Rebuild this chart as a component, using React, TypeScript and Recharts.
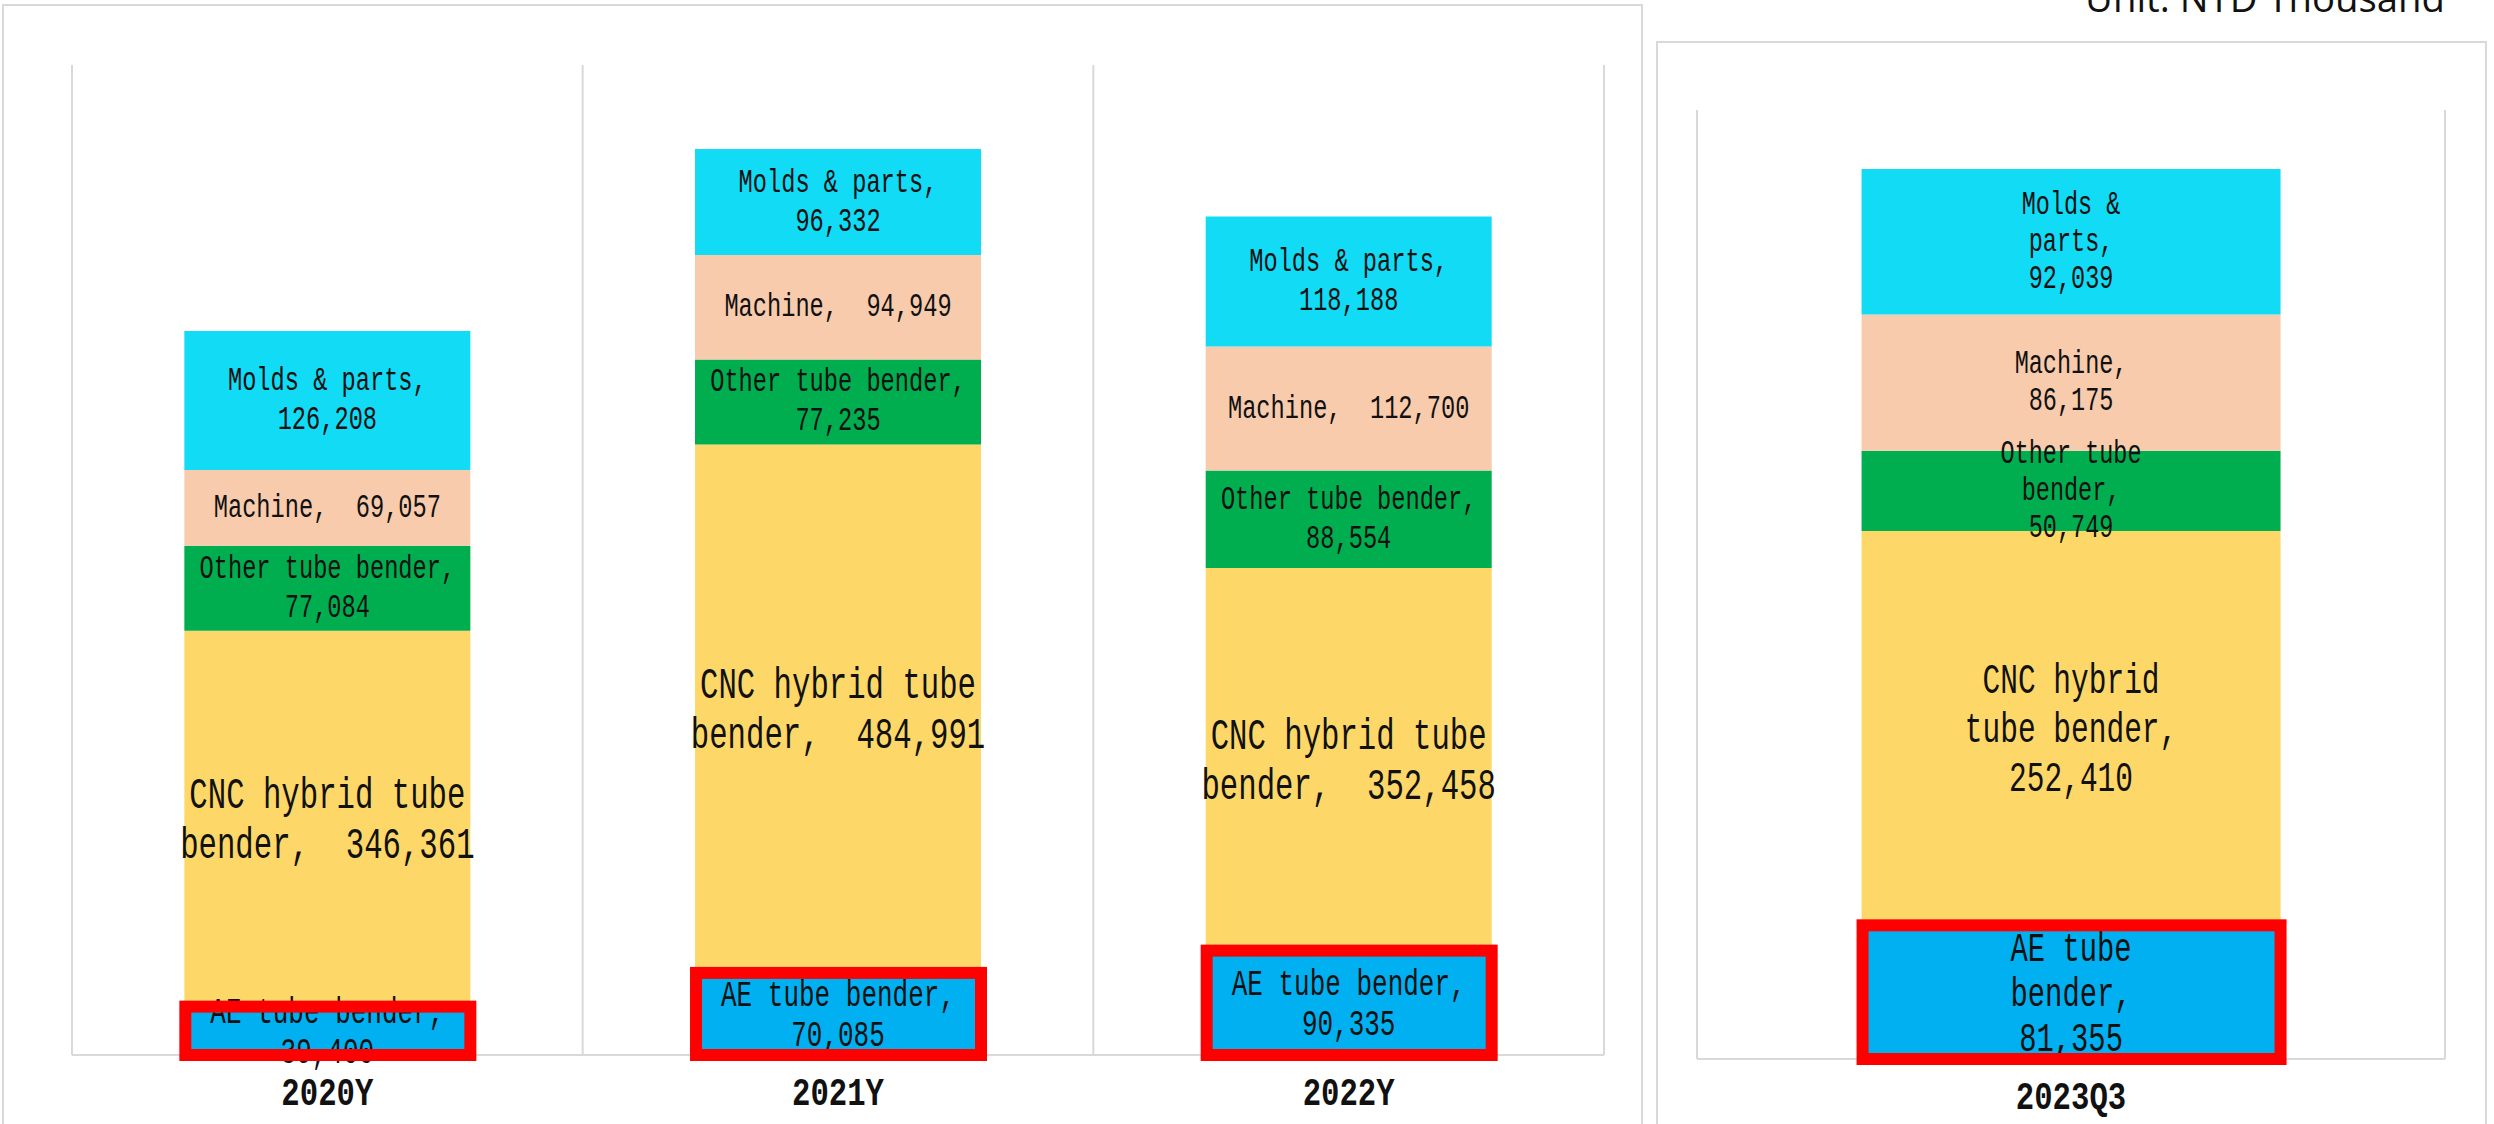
import React from 'react';
import { BarChart, Bar, XAxis, YAxis, CartesianGrid, LabelList } from 'recharts';

// Series, bottom to top of each stack
const seriesKeys = ['ae', 'cnc', 'other', 'machine', 'molds'];
const seriesNames = ['AE tube bender', 'CNC hybrid tube bender', 'Other tube bender', 'Machine', 'Molds & parts'];
const seriesColors = ['#00B0F0', '#FDD869', '#00AE50', '#F8CBAD', '#12DBF5'];

// Full years (NTD thousand)
const yearCategories = ['2020Y', '2021Y', '2022Y'];
const yearAe = [39400, 70085, 90335];
const yearCnc = [346361, 484991, 352458];
const yearOther = [77084, 77235, 88554];
const yearMachine = [69057, 94949, 112700];
const yearMolds = [126208, 96332, 118188];

// Year to date
const quarterCategories = ['2023Q3'];
const quarterAe = [81355];
const quarterCnc = [252410];
const quarterOther = [50749];
const quarterMachine = [86175];
const quarterMolds = [92039];

const unitText = 'Unit: NTD Thousand';

type Row = { name: string; [key: string]: number | string };

const buildRows = (cats: string[], cols: number[][]): Row[] =>
  cats.map((name, i) => {
    const row: Row = { name };
    seriesKeys.forEach((k, s) => {
      row[k] = cols[s][i];
    });
    return row;
  });

const yearRows = buildRows(yearCategories, [yearAe, yearCnc, yearOther, yearMachine, yearMolds]);
const quarterRows = buildRows(quarterCategories, [quarterAe, quarterCnc, quarterOther, quarterMachine, quarterMolds]);

type LabelStyle = { adv: number; fs: number; lh: number; maxChars: number };

const MONO = "'Liberation Mono', 'DejaVu Sans Mono', monospace";
const GRID = '#d9d9d9';

// "Name, value" wrapped on word boundaries, Excel style
const wrapLabel = (name: string, value: number, maxChars: number): string[] => {
  const words = name.split(' ');
  words[words.length - 1] += ',';
  const lines: string[] = [];
  let cur = '';
  words.forEach((w) => {
    const cand = cur ? `${cur} ${w}` : w;
    if (cand.length <= maxChars || !cur) cur = cand;
    else {
      lines.push(cur);
      cur = w;
    }
  });
  const val = value.toLocaleString('en-US');
  const withVal = `${cur}  ${val}`;
  if (withVal.length <= maxChars) lines.push(withVal);
  else lines.push(cur, val);
  return lines;
};

const LabelLines = ({ cx, cy, lines, style }: { cx: number; cy: number; lines: string[]; style: LabelStyle }) => {
  const start = cy - ((lines.length - 1) * style.lh) / 2;
  return (
    <g>
      {lines.map((line, i) => (
        <text
          key={i}
          x={cx}
          y={start + i * style.lh}
          textAnchor="middle"
          dominantBaseline="central"
          fontFamily={MONO}
          fontSize={style.fs}
          textLength={line.length * style.adv}
          lengthAdjust="spacingAndGlyphs"
          fill="#111"
          style={{ whiteSpace: 'pre' }}
        >
          {line}
        </text>
      ))}
    </g>
  );
};

const segmentLabel = (name: string, style: LabelStyle) => (props: any) => {
  const vb = props.viewBox ?? props;
  const x = Number(vb.x);
  const w = Number(vb.width);
  const y = Math.min(Number(vb.y), Number(vb.y) + Number(vb.height));
  const h = Math.abs(Number(vb.height));
  const v = Number(props.value);
  if (!isFinite(x) || !isFinite(v)) return null;
  return <LabelLines cx={x + w / 2} cy={y + h / 2} lines={wrapLabel(name, v, style.maxChars)} style={style} />;
};

// AE segment: its label plus the red highlight frame drawn over it
const highlightShape = (style: LabelStyle) => (props: any) => {
  const { x, y, width, height, payload } = props;
  const top = Math.min(y, y + height);
  const h = Math.abs(height);
  const sw = 12;
  const left = x - 5;
  const right = x + width + 6;
  const t = top - 11;
  const b = top + h + 6;
  return (
    <g>
      <LabelLines
        cx={x + width / 2}
        cy={top + h / 2}
        lines={wrapLabel(seriesNames[0], Number(payload.ae), style.maxChars)}
        style={style}
      />
      <rect
        x={left + sw / 2}
        y={t + sw / 2}
        width={right - left - sw}
        height={b - t - sw}
        fill="none"
        stroke="#FF0000"
        strokeWidth={sw}
      />
    </g>
  );
};

const CategoryTick = (props: any) => {
  const { x, y, payload } = props;
  const label = String(payload.value);
  return (
    <text
      x={x}
      y={y + 39}
      textAnchor="middle"
      dominantBaseline="central"
      fontFamily={MONO}
      fontWeight="bold"
      fontSize={38}
      textLength={label.length * 18.4}
      lengthAdjust="spacingAndGlyphs"
      fill="#111"
    >
      {label}
    </text>
  );
};

type PanelProps = {
  rows: Row[];
  width: number;
  margin: { top: number; right: number; bottom: number; left: number };
  yMax: number;
  small: LabelStyle;
  large: LabelStyle;
  ae: LabelStyle;
};

const StackPanel = ({ rows, width, margin, yMax, small, large, ae }: PanelProps) => (
  <BarChart width={width} height={1124} data={rows} margin={margin} barCategoryGap="22%">
    {/* category separators plus the baseline, kept under the bars */}
    <CartesianGrid
      stroke={GRID}
      strokeWidth={2}
      verticalCoordinatesGenerator={({ offset }: any) =>
        Array.from({ length: rows.length + 1 }, (_, i) => offset.left + (i * offset.width) / rows.length)
      }
      horizontalCoordinatesGenerator={({ offset }: any) => [offset.top + offset.height]}
    />
    <XAxis
      dataKey="name"
      height={40}
      interval={0}
      tickLine={false}
      tickSize={0}
      tickMargin={0}
      axisLine={false}
      tick={<CategoryTick />}
    />
    <XAxis xAxisId="mark" dataKey="name" hide />
    <YAxis hide domain={[0, yMax]} />
    {seriesKeys.map((k, s) => (
      <Bar key={k} dataKey={k} stackId="total" fill={seriesColors[s]} isAnimationActive={false}>
        {s > 0 && (
          <LabelList dataKey={k} content={segmentLabel(seriesNames[s], s === 1 ? large : small)} />
        )}
      </Bar>
    ))}
    <Bar xAxisId="mark" dataKey="ae" isAnimationActive={false} shape={highlightShape(ae)} />
  </BarChart>
);

export default function App() {
  return (
    <div
      style={{
        position: 'absolute',
        left: 0,
        top: 0,
        width: 2494,
        height: 1124,
        overflow: 'hidden',
        background: '#fff',
      }}
    >
      <svg width={2494} height={1124} style={{ position: 'absolute', left: 0, top: 0 }}>
        <rect x={3} y={5} width={1639} height={1200} fill="none" stroke={GRID} strokeWidth={2} />
        <rect x={1657} y={42} width={829} height={1200} fill="none" stroke={GRID} strokeWidth={2} />
        <text
          x={2085}
          y={12}
          fontFamily="'Open Sans', 'Noto Sans', sans-serif"
          fontSize={38}
          textLength={360}
          lengthAdjust="spacingAndGlyphs"
          fill="#111"
        >
          {unitText}
        </text>
      </svg>
      <div style={{ position: 'absolute', left: 0, top: 0 }}>
        <StackPanel
          rows={yearRows}
          width={1650}
          margin={{ top: 65, right: 46, bottom: 29, left: 72 }}
          yMax={900000}
          small={{ adv: 14.2, fs: 34, lh: 39, maxChars: 19 }}
          large={{ adv: 18.4, fs: 44, lh: 50, maxChars: 16 }}
          ae={{ adv: 15.6, fs: 37, lh: 40, maxChars: 19 }}
        />
      </div>
      <div style={{ position: 'absolute', left: 1650, top: 0 }}>
        <StackPanel
          rows={quarterRows}
          width={844}
          margin={{ top: 110, right: 49, bottom: 25, left: 47 }}
          yMax={600000}
          small={{ adv: 14.1, fs: 34, lh: 37, maxChars: 12 }}
          large={{ adv: 17.7, fs: 42, lh: 49, maxChars: 12 }}
          ae={{ adv: 17.3, fs: 41, lh: 45, maxChars: 12 }}
        />
      </div>
    </div>
  );
}
